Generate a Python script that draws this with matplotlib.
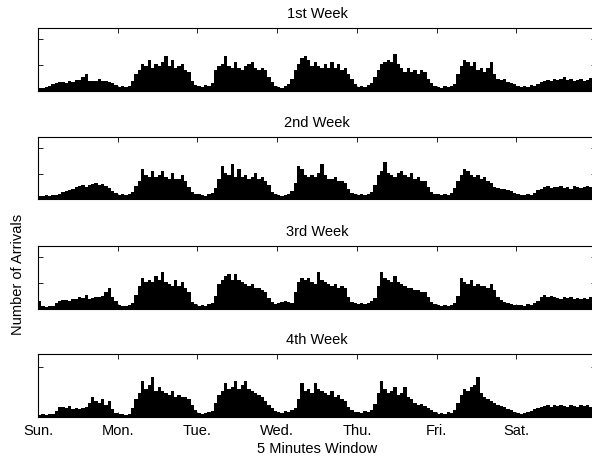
import numpy as np
import matplotlib
matplotlib.use("Agg")
import matplotlib.pyplot as plt

plt.rcParams['font.family'] = ['Liberation Sans', 'DejaVu Sans']

# Hourly arrival levels (12 five-minute windows per value), Sun..Sat
week1 = {
    "Sun": [3,3,4,5,7,8,9,9,8,10,9,11,11,14,16,10,10,10,12,10,10,9,8,6],
    "Mon": [4,5,4,5,10,16,20,26,24,30,22,26,24,28,34,24,30,22,24,26,20,18,10,6],
    "Tue": [5,4,6,5,8,20,24,26,34,24,22,28,22,20,24,26,28,22,20,22,20,14,9,5],
    "Wed": [4,3,5,7,12,20,26,32,34,30,24,28,24,22,26,22,28,22,26,20,22,16,12,7],
    "Thu": [4,5,4,6,8,14,20,26,28,30,28,36,26,22,18,22,18,20,16,20,18,12,8,5],
    "Fri": [4,3,5,4,5,7,16,24,30,28,24,28,20,22,18,22,28,16,12,11,12,9,8,7],
    "Sat": [5,4,5,4,6,5,7,9,10,11,10,12,11,12,14,11,12,10,11,12,10,11,13,12],
}
week2 = {
    "Sun": [3,3,4,3,4,4,5,7,8,9,10,12,13,14,12,14,15,16,14,15,13,11,8,6],
    "Mon": [4,5,4,5,7,13,18,30,24,22,28,22,24,28,22,20,26,20,20,24,18,12,7,5],
    "Tue": [5,4,3,5,6,11,20,32,26,24,34,22,30,22,24,20,22,26,20,22,18,14,7,5],
    "Wed": [4,3,4,5,8,16,32,30,24,22,24,22,26,34,24,20,20,22,18,18,16,10,6,5],
    "Thu": [4,5,4,5,7,14,24,28,36,26,24,22,26,28,24,22,26,20,22,18,18,12,7,5],
    "Fri": [5,4,5,4,6,11,18,24,30,28,24,22,24,20,22,18,16,12,11,10,10,9,8,6],
    "Sat": [5,4,4,5,4,6,9,10,12,13,11,12,12,13,11,12,10,13,12,11,12,13,12,11],
}
week3 = {
    "Sun": [8,3,2,3,3,6,8,9,9,8,10,10,12,11,14,10,11,12,12,13,16,20,12,8],
    "Mon": [4,3,3,4,6,14,22,30,26,28,26,32,28,36,26,24,22,28,22,26,20,16,7,5],
    "Tue": [3,4,3,5,6,13,24,28,32,34,28,34,28,26,24,22,24,20,20,18,16,11,7,5],
    "Wed": [6,7,8,7,6,16,26,30,28,30,26,24,36,28,26,24,22,24,20,22,20,12,7,6],
    "Thu": [5,6,5,6,8,11,22,36,30,28,26,32,26,24,22,20,20,18,18,16,16,12,7,5],
    "Fri": [4,3,4,3,4,6,13,30,26,24,28,22,24,22,22,20,24,18,12,9,7,6,5,4],
    "Sat": [4,4,3,5,4,6,8,12,14,12,13,12,11,10,12,11,12,10,11,10,11,10,12,11],
}
week4 = {
    "Sun": [2,3,2,3,3,6,10,10,9,11,8,9,8,9,10,14,20,16,14,18,12,16,8,4],
    "Mon": [3,3,2,3,9,18,24,36,28,32,40,26,30,26,24,22,26,20,22,20,20,18,12,7],
    "Tue": [4,3,4,5,6,14,22,26,34,28,30,36,28,32,36,28,26,24,22,20,16,12,9,6],
    "Wed": [5,4,6,5,7,9,18,34,26,28,24,34,28,26,24,22,26,20,22,18,16,10,7,5],
    "Thu": [5,4,6,5,7,13,24,36,28,24,26,30,22,24,30,20,18,14,12,13,11,9,7,5],
    "Fri": [3,4,3,5,4,7,14,22,28,26,30,32,40,24,20,18,16,14,12,11,10,8,7,5],
    "Sat": [4,3,4,5,6,8,9,10,11,12,10,12,11,12,11,10,12,11,10,12,11,12,10,11],
}

weeks = [week1, week2, week3, week4]
titles = ["1st Week", "2nd Week", "3rd Week", "4th Week"]
day_labels = ["Sun.", "Mon.", "Tue.", "Wed.", "Thu.", "Fri.", "Sat."]
days = ["Sun", "Mon", "Tue", "Wed", "Thu", "Fri", "Sat"]
ylims = [61, 61, 61, 63]
yticks = [[0, 25, 50], [0, 25, 50], [0, 25, 50], [0, 50]]

WIN_PER_DAY = 288
WIN_PER_HOUR = 12
FS = 10.5

fig = plt.figure(figsize=(5.92, 4.59), dpi=100)
H = 459.0
W = 592.0
tops = [28, 137, 246, 354]
bots = [91, 199, 309, 417]
left = 38 / W
width = 558 / W

for i, wk in enumerate(weeks):
    ax = fig.add_axes([left, 1 - bots[i] / H, width, (bots[i] - tops[i]) / H])
    vals = np.concatenate([wk[d] for d in days])
    edges = np.arange(len(vals) + 1) * WIN_PER_HOUR
    ax.stairs(vals, edges, fill=True, color='black', linewidth=0)
    ax.set_xlim(0, 7 * WIN_PER_DAY)
    ax.set_ylim(0, ylims[i])
    ax.set_yticks(yticks[i])
    ax.set_yticklabels([])
    ax.set_xticks(np.arange(7) * WIN_PER_DAY)
    if i == 3:
        ax.set_xticklabels(day_labels, fontsize=FS)
        ax.set_xlabel("5 Minutes Window", fontsize=FS, labelpad=3)
    else:
        ax.set_xticklabels([])
    ax.tick_params(direction='in', length=3.5, width=0.6, top=True, right=True,
                   pad=5, colors='black')
    for s in ax.spines.values():
        s.set_linewidth(0.8)
        s.set_zorder(3)
    ax.set_title(titles[i], fontsize=FS, pad=7)

fig.text(18 / W, 1 - 274 / H, "Number of Arrivals", rotation=90,
         va='center', ha='center', fontsize=FS)

fig.savefig("out.png", dpi=100)
